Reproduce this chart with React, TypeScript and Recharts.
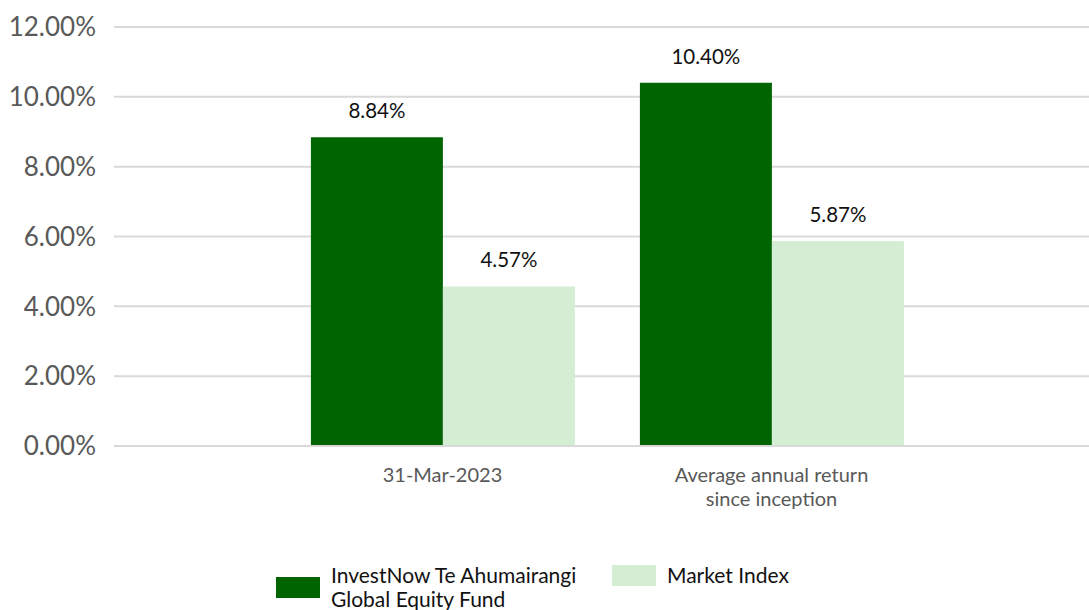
import { BarChart, Bar, XAxis, YAxis, CartesianGrid, LabelList } from 'recharts'

const categories = ['31-Mar-2023', 'Average annual return\nsince inception']
const fundReturns = [8.84, 10.4]
const indexReturns = [4.57, 5.87]
const yTicks = [0, 2, 4, 6, 8, 10, 12]

const FUND = 'InvestNow Te Ahumairangi\nGlobal Equity Fund'
const INDEX = 'Market Index'
const COLORS = { fund: '#006400', index: '#d3eed3' }

const data = categories.map((c, i) => ({ name: c, fund: fundReturns[i], index: indexReturns[i] }))

const FONT = 'Lato, "Open Sans", sans-serif'

function CategoryTick({ x, y, payload }: any) {
  const lines = String(payload.value).split('\n')
  return (
    <text x={x} y={y} textAnchor="middle" fill="#595959" fontSize={20} fontFamily={FONT}>
      {lines.map((l, i) => (
        <tspan key={i} x={x} dy={i === 0 ? 28 : 24}>{l}</tspan>
      ))}
    </text>
  )
}

function LegendBox() {
  const items = [
    { label: FUND, color: COLORS.fund, w: 336 },
    { label: INDEX, color: COLORS.index, w: 220 },
  ]
  return (
    <div style={{ position: 'absolute', left: 276, top: 563, display: 'flex', alignItems: 'flex-start', fontFamily: FONT, fontSize: 21, color: '#111', lineHeight: '24px' }}>
      {items.map(it => (
        <div key={it.color} style={{ display: 'flex', alignItems: 'center', width: it.w }}>
          <span style={{ display: 'inline-block', width: 44, height: 21, background: it.color, marginRight: 11, flexShrink: 0 }} />
          <span style={{ whiteSpace: 'pre-line' }}>{it.label}</span>
        </div>
      ))}
    </div>
  )
}

export default function App() {
  return (
    <div style={{ position: 'absolute', left: 0, top: 0, width: 1089, height: 610, background: '#fff', overflow: 'hidden' }}>
      <BarChart
        width={1089}
        height={610}
        data={data}
        margin={{ top: 27, right: 0, bottom: 104, left: 0 }}
        barCategoryGap="10%"
        barGap={0}
      >
        <CartesianGrid vertical={false} stroke="#d9d9d9" strokeWidth={2} />
        <XAxis
          dataKey="name"
          axisLine={{ stroke: '#d9d9d9', strokeWidth: 2 }}
          tickLine={false}
          padding={{ left: 164, right: 153 }}
          tick={<CategoryTick />}
          height={60}
          interval={0}
        />
        <YAxis
          domain={[0, 12]}
          ticks={yTicks}
          width={114}
          axisLine={false}
          tickLine={false}
          tickMargin={12}
          tickFormatter={(v: number) => `${v.toFixed(2)}%`}
          tick={{ fill: '#595959', fontSize: 26, fontFamily: FONT }}
        />
        <Bar dataKey="fund" name={FUND} fill={COLORS.fund} isAnimationActive={false}>
          <LabelList dataKey="fund" position="top" offset={19} formatter={(v: any) => `${Number(v).toFixed(2)}%`} style={{ fill: '#111', fontSize: 20.5, fontFamily: FONT }} />
        </Bar>
        <Bar dataKey="index" name={INDEX} fill={COLORS.index} isAnimationActive={false}>
          <LabelList dataKey="index" position="top" offset={19} formatter={(v: any) => `${Number(v).toFixed(2)}%`} style={{ fill: '#111', fontSize: 20.5, fontFamily: FONT }} />
        </Bar>
      </BarChart>
      <LegendBox />
    </div>
  )
}
